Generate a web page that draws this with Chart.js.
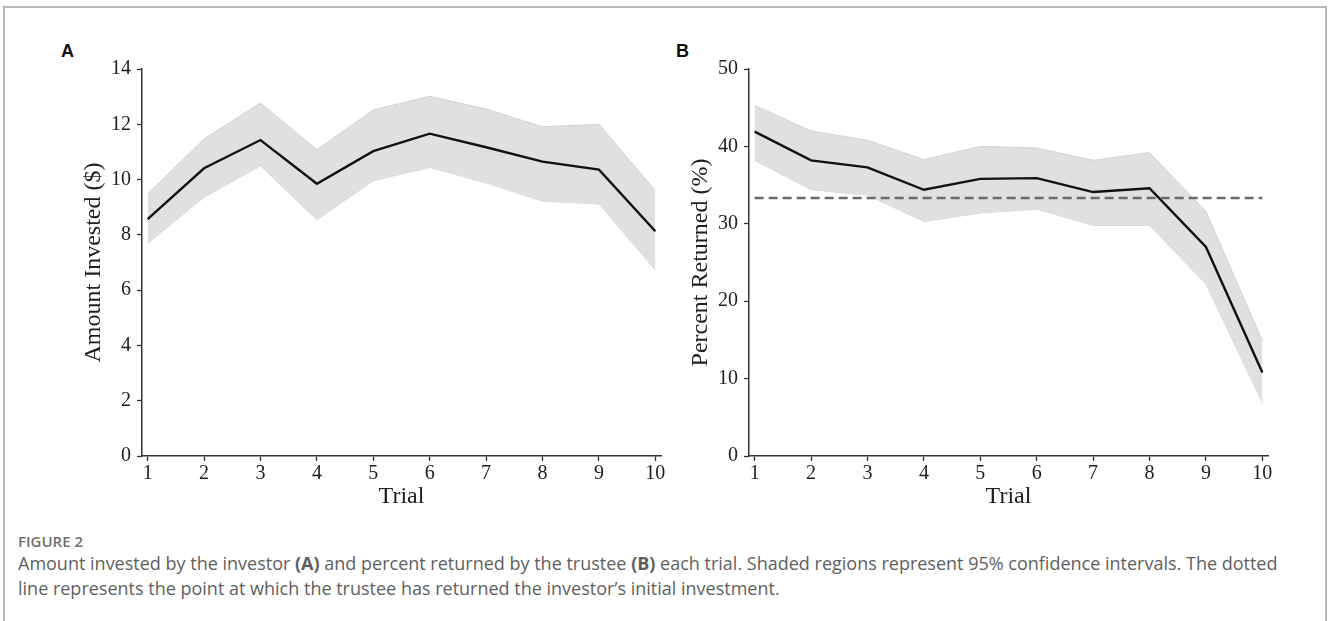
<!DOCTYPE html>
<html lang="en">
<head>
<meta charset="UTF-8">
<title>Figure 2</title>
<script src="https://cdn.jsdelivr.net/npm/chart.js"></script>
<style>
  html, body { margin: 0; padding: 0; background: #fff; }
  body { width: 1328px; height: 621px; position: relative; overflow: hidden; }
  .frame { position: absolute; left: 3px; top: 6px; width: 1320px; height: 700px;
           border: 2px solid #b8b8b8; border-bottom: none; }
  .panel { position: absolute; font-family: "Liberation Sans", Arial, sans-serif;
           font-weight: bold; font-size: 18px; color: #111; }
  canvas { position: absolute; }
  .caption { position: absolute; left: 18px; top: 531px; width: 1300px;
             font-family: "Open Sans", "Noto Sans", sans-serif; color: #5f5f5f; }
  .caption .fig { font-size: 15px; font-weight: 600; line-height: 20px; color: #707070; }
  .caption .txt { font-size: 18px; line-height: 25px; }
</style>
</head>
<body>
<div class="frame"></div>
<div class="panel" style="left:61px; top:41px;">A</div>
<div class="panel" style="left:676px; top:41px;">B</div>
<canvas id="chartA" width="630" height="470" style="left:40px; top:50px;"></canvas>
<canvas id="chartB" width="630" height="470" style="left:647px; top:50px;"></canvas>
<div class="caption">
  <div class="fig">FIGURE 2</div>
  <div class="txt">Amount invested by the investor <b>(A)</b> and percent returned by the trustee <b>(B)</b> each trial. Shaded regions represent 95% confidence intervals. The dotted<br>line represents the point at which the trustee has returned the investor’s initial investment.</div>
</div>

<script>
// values
const trials = [1, 2, 3, 4, 5, 6, 7, 8, 9, 10];

const investedMean  = [8.57, 10.41, 11.43, 9.85, 11.03, 11.66, 11.17, 10.65, 10.36, 8.13];
const investedUpper = [9.48, 11.47, 12.77, 11.08, 12.52, 13.01, 12.55, 11.91, 12.00, 9.60];
const investedLower = [7.69, 9.36, 10.50, 8.54, 9.96, 10.44, 9.88, 9.22, 9.12, 6.73];

const returnedMean  = [41.9, 38.2, 37.3, 34.4, 35.8, 35.9, 34.1, 34.6, 27.0, 10.8];
const returnedUpper = [45.3, 42.0, 40.8, 38.3, 40.0, 39.8, 38.2, 39.2, 31.6, 14.9];
const returnedLower = [38.2, 34.4, 33.7, 30.3, 31.4, 31.9, 29.8, 29.8, 22.2, 6.9];

const breakEven = 33.33; // trustee has returned the initial investment

const investedTicks = [0, 2, 4, 6, 8, 10, 12, 14];
const returnedTicks = [0, 10, 20, 30, 40, 50];

const serif = "'Liberation Serif', 'Times New Roman', serif";
const inkColor = '#1e1e1e';

function pts(ys) {
    return trials.map((t, i) => ({ x: t, y: ys[i] }));
}

function makeChart(id, mean, upper, lower, yTicks, yTitle, extra) {
    const datasets = [
        {
            data: pts(upper),
            borderColor: '#d2d2d2',
            borderWidth: 1,
            backgroundColor: '#e0e0e0',
            fill: '+1',
            pointRadius: 0,
            order: 3
        },
        {
            data: pts(lower),
            borderColor: '#d2d2d2',
            borderWidth: 1,
            fill: false,
            pointRadius: 0,
            order: 3
        },
        {
            data: pts(mean),
            borderColor: '#111',
            borderWidth: 2.4,
            fill: false,
            pointRadius: 0,
            order: 1
        }
    ];
    if (extra) datasets.push(extra);

    return new Chart(document.getElementById(id), {
        type: 'line',
        data: { datasets: datasets },
        options: {
            responsive: false,
            animation: false,
            layout: { padding: { top: 19, right: 9, bottom: 0, left: 0 } },
            plugins: { legend: { display: false }, tooltip: { enabled: false } },
            scales: {
                x: {
                    type: 'linear',
                    min: 0.9,
                    max: 10.1,
                    afterBuildTicks: s => { s.ticks = trials.map(v => ({ value: v })); },
                    afterFit: s => { s.height = 64; },
                    grid: { drawOnChartArea: false, tickLength: 5, color: '#333', tickWidth: 1.3 },
                    border: { display: true, color: '#333', width: 1.5 },
                    ticks: { color: inkColor, font: { family: serif, size: 20 }, padding: 1, maxRotation: 0 },
                    title: {
                        display: true,
                        text: 'Trial',
                        color: inkColor,
                        font: { family: serif, size: 24 },
                        padding: { top: 0, bottom: 9 }
                    }
                },
                y: {
                    min: yTicks[0],
                    max: yTicks[yTicks.length - 1],
                    afterBuildTicks: s => { s.ticks = yTicks.map(v => ({ value: v })); },
                    afterFit: s => { s.width = 102; },
                    grid: { drawOnChartArea: false, tickLength: 5, color: '#333', tickWidth: 1.3 },
                    border: { display: true, color: '#333', width: 1.5 },
                    ticks: { color: inkColor, font: { family: serif, size: 20 }, padding: 6 },
                    title: {
                        display: true,
                        text: yTitle,
                        color: inkColor,
                        font: { family: serif, size: 24 },
                        padding: { top: 39, bottom: 0 }
                    }
                }
            }
        }
    });
}

makeChart('chartA', investedMean, investedUpper, investedLower, investedTicks, 'Amount Invested ($)');

makeChart('chartB', returnedMean, returnedUpper, returnedLower, returnedTicks, 'Percent Returned (%)', {
    data: [{ x: trials[0], y: breakEven }, { x: trials[trials.length - 1], y: breakEven }],
    borderColor: '#6a6a6a',
    borderWidth: 2.4,
    borderDash: [9, 5],
    fill: false,
    pointRadius: 0,
    order: 0
});
</script>
</body>
</html>
